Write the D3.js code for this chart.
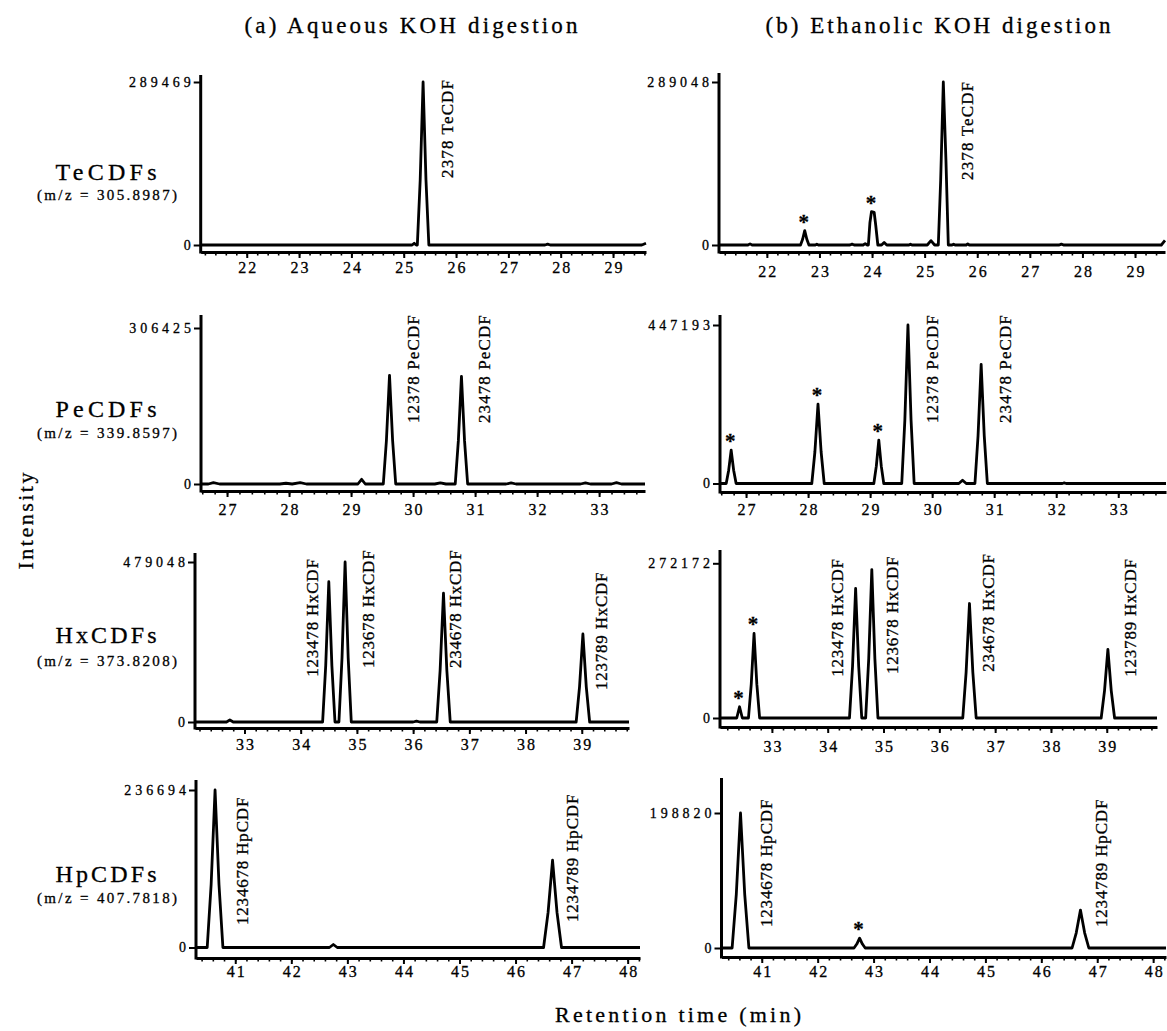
<!DOCTYPE html>
<html>
<head>
<meta charset="utf-8">
<script src="https://cdn.jsdelivr.net/npm/d3@7"></script>
<style>
  body { margin: 0; background: #fff; }
  svg text { font-family: "Liberation Serif", "Times New Roman", serif; fill: #000; stroke: #000; stroke-width: 0.3px; }
</style>
</head>
<body>
<svg id="chart" width="1167" height="1031"></svg>
<script>
// ---- data ----
const columnTitles = ['(a) Aqueous KOH digestion', '(b) Ethanolic KOH digestion'];
const rowNames = ['TeCDFs', 'PeCDFs', 'HxCDFs', 'HpCDFs'];
const mzLabels = ['(m/z = 305.8987)', '(m/z = 339.8597)', '(m/z = 373.8208)', '(m/z = 407.7818)'];

// full-scale intensity printed on each y axis
const maxAqueous = [289469, 306425, 479048, 236694];
const maxEthanolic = [289048, 447193, 272172, 198820];

// retention time window (min) of each panel
const domainsAqueous = [[21.12, 29.63], [26.58, 33.74], [32.12, 39.84], [40.30, 48.22]];
const domainsEthanolic = [[21.09, 29.57], [26.58, 33.77], [32.07, 39.90], [40.28, 48.23]];

const xTicks = [
  [22, 23, 24, 25, 26, 27, 28, 29],
  [27, 28, 29, 30, 31, 32, 33],
  [33, 34, 35, 36, 37, 38, 39],
  [41, 42, 43, 44, 45, 46, 47, 48]
];

// chromatogram traces: [retention time, intensity]
const traceA1 = [
  [21.12, 0], [25.16, 0], [25.2, 3000], [25.24, 0],
  [25.26, 0], [25.315, 115800], [25.37, 289469], [25.425, 115800], [25.48, 0],
  [27.7, 0], [27.75, 1500], [27.8, 0],
  [29.55, 0], [29.63, 3000]
];
const traceB1 = [
  [21.09, 0], [21.64, 0], [21.68, 2000], [21.72, 0],
  [22.64, 0], [22.68, 10200], [22.72, 25500], [22.76, 10200], [22.8, 0],
  [22.92, 0], [22.95, 1500], [22.98, 0],
  [23.58, 0], [23.62, 1500], [23.66, 0],
  [23.83, 0], [23.87, 2500], [23.91, 0],
  [23.93, 0], [23.96, 40000], [23.99, 59300], [24.04, 58000], [24.07, 35000], [24.11, 0],
  [24.18, 0], [24.23, 4600], [24.28, 0],
  [24.7, 0], [24.73, 1500], [24.76, 0],
  [25.05, 0], [25.12, 7700], [25.19, 0],
  [25.26, 0], [25.305, 115600], [25.355, 289048], [25.405, 150000], [25.45, 0],
  [25.52, 0], [25.55, 1500], [25.58, 0],
  [25.79, 0], [25.82, 2000], [25.85, 0],
  [27.56, 0], [27.6, 1500], [27.64, 0],
  [29.5, 0], [29.57, 8000]
];
const traceA2 = [
  [26.58, 0], [26.7, 0], [26.78, 2500], [26.88, 0],
  [27.85, 0], [27.95, 1500], [28.05, 0], [28.18, 2500], [28.28, 0],
  [29.11, 0], [29.17, 9300], [29.23, 0],
  [29.52, 0], [29.57, 85400], [29.62, 213500], [29.67, 85400], [29.72, 0],
  [30.35, 0], [30.44, 2000], [30.53, 0],
  [30.68, 0], [30.73, 84600], [30.78, 211500], [30.83, 84600], [30.88, 0],
  [31.5, 0], [31.58, 2000], [31.66, 0],
  [32.7, 0], [32.78, 2000], [32.86, 0],
  [33.2, 0], [33.28, 2500], [33.36, 0],
  [33.74, 0]
];
const traceB2 = [
  [26.58, 0],
  [26.68, 0], [26.72, 37600], [26.76, 94000], [26.8, 37600], [26.84, 0],
  [28.06, 0], [28.11, 89600], [28.16, 224000], [28.21, 89600], [28.26, 0],
  [29.06, 0], [29.1, 49000], [29.14, 122400], [29.18, 49000], [29.22, 0],
  [29.51, 0], [29.56, 178900], [29.61, 447193], [29.66, 178900], [29.71, 0],
  [30.43, 0], [30.49, 9300], [30.55, 0],
  [30.69, 0], [30.74, 134400], [30.79, 336000], [30.84, 134400], [30.89, 0],
  [32.1, 0], [32.13, 1500], [32.16, 0],
  [33.77, 0]
];
const traceA3 = [
  [32.12, 0], [32.68, 0], [32.74, 6000], [32.8, 0],
  [34.39, 0], [34.445, 168000], [34.5, 420000], [34.555, 168000], [34.61, 0],
  [34.68, 0], [34.735, 191600], [34.79, 479048], [34.845, 191600], [34.9, 0],
  [36.0, 0], [36.06, 2500], [36.12, 0],
  [36.42, 0], [36.48, 154200], [36.54, 385500], [36.6, 154200], [36.66, 0],
  [38.9, 0], [38.96, 105400], [39.02, 263500], [39.08, 105400], [39.14, 0],
  [39.84, 0]
];
const traceB3 = [
  [32.07, 0], [32.37, 0], [32.42, 19800], [32.47, 0],
  [32.58, 0], [32.63, 59500], [32.68, 148700], [32.73, 59500], [32.78, 0],
  [34.39, 0], [34.445, 91100], [34.5, 227800], [34.555, 91100], [34.61, 0],
  [34.68, 0], [34.735, 104400], [34.79, 261000], [34.845, 104400], [34.9, 0],
  [36.42, 0], [36.48, 80600], [36.54, 201400], [36.6, 80600], [36.66, 0],
  [38.9, 0], [38.96, 48200], [39.02, 120600], [39.08, 48200], [39.14, 0],
  [39.9, 0]
];
const traceA4 = [
  [40.30, 0], [40.5, 0], [40.57, 94700], [40.64, 236694], [40.71, 94700], [40.78, 0],
  [42.68, 0], [42.75, 4500], [42.82, 0],
  [46.5, 0], [46.58, 52400], [46.66, 131100], [46.74, 52400], [46.82, 0],
  [48.22, 0]
];
const traceB4 = [
  [40.28, 0], [40.47, 0], [40.545, 79500], [40.62, 198820], [40.695, 79500], [40.77, 0],
  [42.65, 0], [42.7, 5800], [42.75, 14500], [42.8, 5800], [42.85, 0],
  [46.55, 0], [46.625, 22400], [46.7, 55900], [46.775, 22400], [46.85, 0],
  [48.23, 0]
];

// peak names: [text, retention time, intensity where the label starts]
const labelsA1 = [['2378 TeCDF', 25.83, 119000]];
const labelsB1 = [['2378 TeCDF', 25.80, 115300]];
const labelsA2 = [['12378 PeCDF', 30.0, 119800], ['23478 PeCDF', 31.14, 119800]];
const labelsB2 = [['12378 PeCDF', 30.0, 170700], ['23478 PeCDF', 31.18, 170700]];
const labelsA3 = [['123478 HxCDF', 34.20, 135600], ['123678 HxCDF', 35.19, 161700],
                  ['234678 HxCDF', 36.75, 161700], ['123789 HxCDF', 39.34, 95800]];
const labelsB3 = [['123478 HxCDF', 34.16, 72700], ['123678 HxCDF', 35.15, 77400],
                  ['234678 HxCDF', 36.88, 81500], ['123789 HxCDF', 39.42, 72700]];
const labelsA4 = [['1234678 HpCDF', 41.115, 33800], ['1234789 HpCDF', 47.0, 38300]];
const labelsB4 = [['1234678 HpCDF', 41.08, 30900], ['1234789 HpCDF', 47.06, 30900]];

// peaks marked with an asterisk: [retention time, peak height]
const starsB1 = [[22.72, 25500], [24.0, 59300]];
const starsB2 = [[26.76, 94000], [28.16, 224000], [29.14, 122400]];
const starsB3 = [[32.42, 19800], [32.68, 148700]];
const starsB4 = [[42.75, 14500]];

// ---- layout (pixels) ----
const layoutA = [
  { x0: 200.7, x1: 646, yTop: 75, yMax: 82, yZero: 245, yAxis: 252, lab: 21.5 },
  { x0: 201, x1: 645, yTop: 315, yMax: 328, yZero: 484, yAxis: 491, lab: 24.5 },
  { x0: 195, x1: 629, yTop: 553, yMax: 562, yZero: 722, yAxis: 728, lab: 22 },
  { x0: 196, x1: 640, yTop: 780, yMax: 790, yZero: 947.5, yAxis: 958, lab: 19 }
];
const layoutB = [
  { x0: 719, x1: 1165, yTop: 73, yMax: 82, yZero: 245, yAxis: 252, lab: 25 },
  { x0: 720, x1: 1166, yTop: 315, yMax: 325, yZero: 483.5, yAxis: 492, lab: 23.5 },
  { x0: 720, x1: 1157, yTop: 550, yMax: 563.3, yZero: 718, yAxis: 727, lab: 25 },
  { x0: 721.5, x1: 1166, yTop: 778, yMax: 813, yZero: 948, yAxis: 957, lab: 20 }
];
const rowLabelY = [[180, 200], [417, 438], [643, 666], [882, 903]];

const svg = d3.select('#chart');

const panels = [
  { lay: layoutA[0], max: maxAqueous[0], domain: domainsAqueous[0], ticks: xTicks[0], trace: traceA1, labels: labelsA1, stars: [] },
  { lay: layoutA[1], max: maxAqueous[1], domain: domainsAqueous[1], ticks: xTicks[1], trace: traceA2, labels: labelsA2, stars: [] },
  { lay: layoutA[2], max: maxAqueous[2], domain: domainsAqueous[2], ticks: xTicks[2], trace: traceA3, labels: labelsA3, stars: [] },
  { lay: layoutA[3], max: maxAqueous[3], domain: domainsAqueous[3], ticks: xTicks[3], trace: traceA4, labels: labelsA4, stars: [] },
  { lay: layoutB[0], max: maxEthanolic[0], domain: domainsEthanolic[0], ticks: xTicks[0], trace: traceB1, labels: labelsB1, stars: starsB1 },
  { lay: layoutB[1], max: maxEthanolic[1], domain: domainsEthanolic[1], ticks: xTicks[1], trace: traceB2, labels: labelsB2, stars: starsB2 },
  { lay: layoutB[2], max: maxEthanolic[2], domain: domainsEthanolic[2], ticks: xTicks[2], trace: traceB3, labels: labelsB3, stars: starsB3 },
  { lay: layoutB[3], max: maxEthanolic[3], domain: domainsEthanolic[3], ticks: xTicks[3], trace: traceB4, labels: labelsB4, stars: starsB4 }
];

panels.forEach(drawPanel);

function drawPanel(p) {
  const L = p.lay;
  const x = d3.scaleLinear().domain(p.domain).range([L.x0, L.x1]);
  const y = d3.scaleLinear().domain([0, p.max]).range([L.yZero, L.yMax]);
  const g = svg.append('g');

  // minor ticks every 0.2 min
  const minor = d3.range(Math.ceil(p.domain[0] * 5), Math.floor(p.domain[1] * 5) + 1).map(v => v / 5);
  g.append('g')
    .attr('transform', `translate(0,${L.yAxis})`)
    .call(d3.axisBottom(x).tickValues(minor).tickSize(3.5).tickSizeOuter(0).tickFormat(''))
    .call(a => a.select('.domain').remove())
    .call(a => a.selectAll('line').attr('stroke', '#000').attr('stroke-width', 1.6));

  const xAxisG = g.append('g')
    .attr('transform', `translate(0,${L.yAxis})`)
    .call(d3.axisBottom(x).tickValues(p.ticks).tickSize(6).tickSizeOuter(0).tickPadding(L.lab - 17.4));
  xAxisG.select('.domain').attr('stroke', '#000').attr('stroke-width', 3);
  xAxisG.selectAll('line').attr('stroke', '#000').attr('stroke-width', 2);
  xAxisG.selectAll('text')
    .attr('font-family', null)
    .style('font-size', '16px')
    .attr('textLength', 18);

  // y axis
  g.append('line')
    .attr('x1', L.x0).attr('x2', L.x0)
    .attr('y1', L.yTop).attr('y2', L.yAxis + 1.5)
    .attr('stroke', '#000').attr('stroke-width', 3);
  const yAxisG = g.append('g')
    .attr('transform', `translate(${L.x0},0)`)
    .call(d3.axisLeft(y).tickValues([0, p.max]).tickSize(7).tickPadding(3).tickFormat(d3.format('d')));
  yAxisG.select('.domain').remove();
  yAxisG.selectAll('line').attr('stroke', '#000').attr('stroke-width', 2);
  yAxisG.selectAll('text')
    .attr('font-family', null)
    .style('font-size', '14px')
    .attr('textLength', d => d === 0 ? null : String(d).length * 10.3);

  // chromatogram trace
  const line = d3.line().x(d => x(d[0])).y(d => y(d[1]));
  g.append('path')
    .datum(p.trace)
    .attr('d', line)
    .attr('fill', 'none')
    .attr('stroke', '#000')
    .attr('stroke-width', 2.8)
    .attr('stroke-linejoin', 'round');

  // peak names
  g.selectAll('text.peak')
    .data(p.labels)
    .join('text')
    .attr('class', 'peak')
    .attr('transform', d => `translate(${x(d[1])},${y(d[2])}) rotate(-90)`)
    .attr('dy', '0.35em')
    .attr('textLength', d => d[0].length * 9.8)
    .style('font-size', '17px')
    .text(d => d[0]);

  // asterisks
  g.selectAll('text.star')
    .data(p.stars)
    .join('text')
    .attr('class', 'star')
    .attr('x', d => x(d[0]) - 1)
    .attr('y', d => y(d[1]) - 2)
    .attr('text-anchor', 'middle')
    .style('font-size', '21px')
    .style('font-weight', 'bold')
    .text('*');
}

// column titles
svg.selectAll('text.coltitle')
  .data(columnTitles)
  .join('text')
  .attr('class', 'coltitle')
  .attr('x', (d, i) => i === 0 ? 411 : 938)
  .attr('y', 33)
  .attr('text-anchor', 'middle')
  .attr('textLength', (d, i) => i === 0 ? 333 : 345)
  .style('font-size', '23px')
  .text(d => d);

// row names
svg.selectAll('text.rowname')
  .data(rowNames)
  .join('text')
  .attr('class', 'rowname')
  .attr('x', 106)
  .attr('y', (d, i) => rowLabelY[i][0])
  .attr('text-anchor', 'middle')
  .attr('textLength', 101)
  .style('font-size', '24px')
  .text(d => d);

svg.selectAll('text.mz')
  .data(mzLabels)
  .join('text')
  .attr('class', 'mz')
  .attr('x', 107)
  .attr('y', (d, i) => rowLabelY[i][1])
  .attr('text-anchor', 'middle')
  .attr('textLength', 140)
  .style('font-size', '15px')
  .text(d => d);

// axis titles
svg.append('text')
  .attr('transform', 'translate(25,521) rotate(-90)')
  .attr('dy', '0.35em')
  .attr('text-anchor', 'middle')
  .attr('textLength', 97)
  .style('font-size', '22px')
  .text('Intensity');

svg.append('text')
  .attr('x', 678)
  .attr('y', 1022)
  .attr('text-anchor', 'middle')
  .attr('textLength', 246)
  .style('font-size', '22px')
  .text('Retention time (min)');
</script>
</body>
</html>
